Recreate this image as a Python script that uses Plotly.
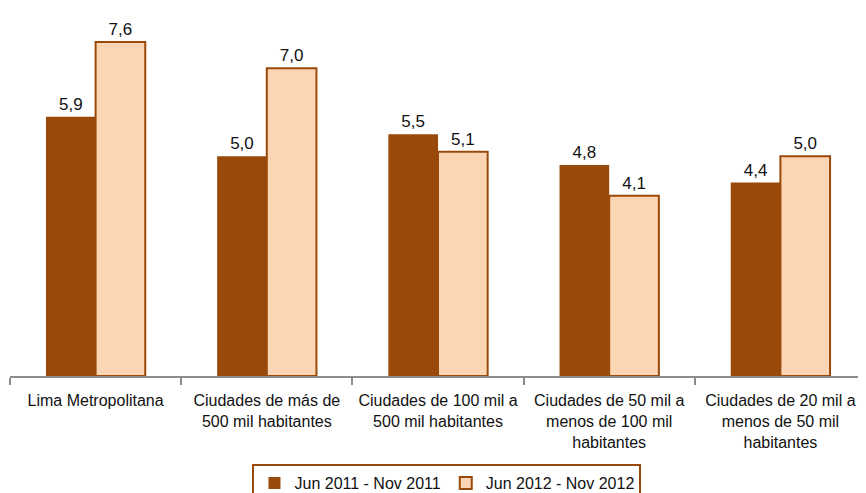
import plotly.graph_objects as go

categories = [
    "Lima Metropolitana",
    "Ciudades de más de<br>500 mil habitantes",
    "Ciudades de 100 mil a<br>500 mil habitantes",
    "Ciudades de 50 mil a<br>menos de 100 mil<br>habitantes",
    "Ciudades de 20 mil a<br>menos de 50 mil<br>habitantes",
]
serie_2011 = [5.9, 5.0, 5.5, 4.8, 4.4]
serie_2012 = [7.6, 7.0, 5.1, 4.1, 5.0]

FONT = "Liberation Sans Narrow, Arial Narrow, Liberation Sans, sans-serif"
DARK = "#994a0a"
LIGHT = "#fcd5b5"

fig = go.Figure()
fig.add_trace(go.Bar(
    x=categories, y=serie_2011, name="Jun 2011 - Nov 2011",
    marker=dict(color=DARK, line=dict(color=DARK, width=0)),
    text=serie_2011, texttemplate="%{y:.1f}", textposition="outside",
    textfont=dict(size=17, color="#111111"), cliponaxis=False,
))
fig.add_trace(go.Bar(
    x=categories, y=serie_2012, name="Jun 2012 - Nov 2012",
    marker=dict(color=LIGHT, line=dict(color=DARK, width=2)),
    text=serie_2012, texttemplate="%{y:.1f}", textposition="outside",
    textfont=dict(size=17, color="#111111"), cliponaxis=False,
))

# the page body adds an 8px margin, so the figure is sized to fit the window
fig.update_layout(
    width=858, height=485,
    margin=dict(l=2, r=0, t=0, b=117),
    barmode="group", bargap=0.42, bargroupgap=0,
    separators=",.",
    plot_bgcolor="white", paper_bgcolor="white",
    font=dict(family=FONT, size=17, color="#111111"),
    showlegend=True,
    legend=dict(
        orientation="h", x=0.5105, xanchor="center",
        yref="container", y=0.0598, yanchor="top",
        bordercolor=DARK, borderwidth=2, font=dict(size=16),
        itemwidth=30, traceorder="normal",
    ),
)
fig.update_xaxes(
    automargin=False,
    showline=True, linecolor="#8c8c8c", linewidth=2,
    ticks="outside", tickson="boundaries", ticklen=7, tickcolor="#8c8c8c", tickwidth=2,
    tickfont=dict(size=16), tickangle=0, ticklabelstandoff=9,
)
fig.update_yaxes(range=[0, 8.373], visible=False, showgrid=False, automargin=False)

fig.write_html("out.html")
